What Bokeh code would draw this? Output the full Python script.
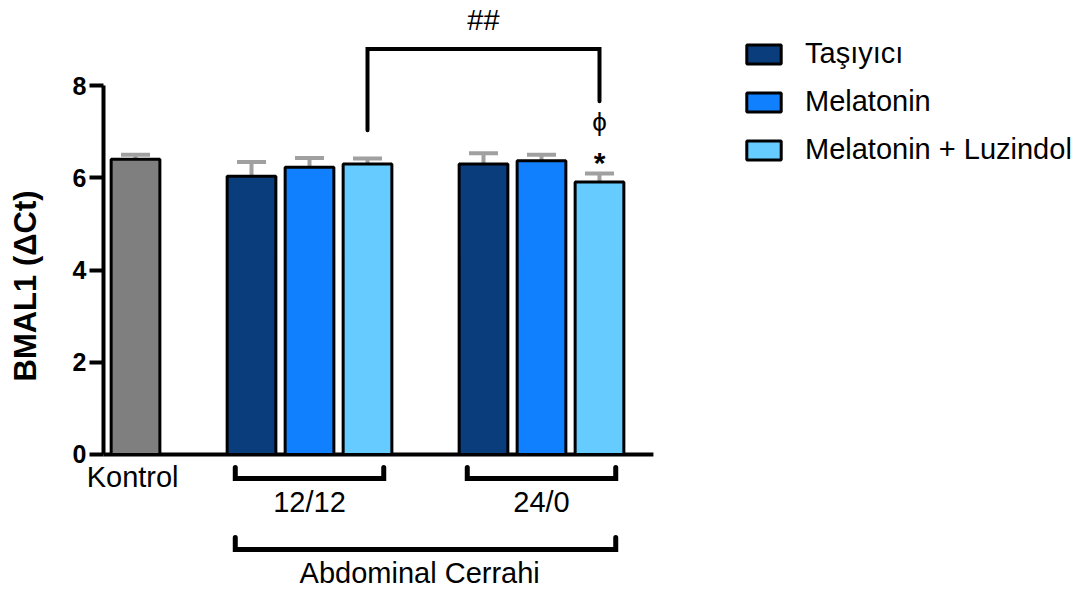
from bokeh.plotting import figure
from bokeh.models import Range1d, FixedTicker, Legend, LegendItem
from bokeh.core.properties import value
from bokeh.embed import file_html
from bokeh.resources import INLINE

# ---------------- data ----------------
series = ["Taşıyıcı", "Melatonin", "Melatonin + Luzindol"]
groups = ["12/12", "24/0"]
control_label = "Kontrol"
surgery_label = "Abdominal Cerrahi"

kontrol_mean = [6.40]
kontrol_sem = [0.10]
tasiyici_mean = [6.03, 6.30]
tasiyici_sem = [0.31, 0.23]
melatonin_mean = [6.23, 6.37]
melatonin_sem = [0.20, 0.13]
luzindol_mean = [6.30, 5.91]
luzindol_sem = [0.12, 0.18]

y_ticks = [0, 2, 4, 6, 8]
y_label = "BMAL1 (ΔCt)"

# significance marks
hash_text = "##"
phi_text = "ϕ"
star_text = "*"
bracket_top = 8.79
bracket_left_end = 7.03
bracket_right_end = 7.66

# ---------------- styling ----------------
colors = ["#0A3D7C", "#1080FF", "#66CCFF"]
kontrol_color = "#7F7F7F"
err_color = "#A0A0A0"
FONT = "Liberation Sans"

kontrol_x = [0]
group_centers = [3, 7]
offsets = [-1, 0, 1]
bar_w = 0.84
cap_half = 0.25
x_axis_start = -0.552
x_axis_end = 8.93

p = figure(width=1090, height=589,
           x_range=Range1d(-2.328, 16.466), y_range=Range1d(-2.927, 9.843),
           x_axis_location=None, output_backend="svg", toolbar_location=None,
           min_border_left=0, min_border_right=0, min_border_top=0, min_border_bottom=0)
p.outline_line_color = None
p.xgrid.visible = False
p.ygrid.visible = False
p.background_fill_color = "white"
p.border_fill_color = "white"

# y axis (placed at the left end of the baseline)
ax = p.yaxis[0]
ax.fixed_location = x_axis_start
ax.ticker = FixedTicker(ticks=y_ticks)
ax.bounds = (-0.7, y_ticks[-1])          # label centring; the visible line is drawn below
ax.axis_line_color = None
ax.major_tick_line_width = 4
ax.major_tick_line_color = "black"
ax.major_tick_out = 14
ax.major_tick_in = 0
ax.minor_tick_line_color = None
ax.major_label_standoff = 3
ax.major_label_text_font = FONT
ax.major_label_text_font_size = "25px"
ax.major_label_text_font_style = "bold"
ax.major_label_text_color = "black"
ax.axis_label = y_label
ax.axis_label_text_font = FONT
ax.axis_label_text_font_size = "31px"
ax.axis_label_text_font_style = "bold"
ax.axis_label_standoff = 27
ax.axis_label_text_color = "black"

# axis lines
p.segment(x0=[x_axis_start], y0=[y_ticks[0]], x1=[x_axis_start], y1=[y_ticks[-1]],
          line_color="black", line_width=4)
p.segment(x0=[x_axis_start], y0=[0], x1=[x_axis_end], y1=[0], line_color="black", line_width=4)


def errbars(xs, means, sems):
    tops = [m + s for m, s in zip(means, sems)]
    p.segment(x0=xs, y0=means, x1=xs, y1=tops, line_color=err_color, line_width=4)
    p.segment(x0=[x - cap_half for x in xs], y0=tops, x1=[x + cap_half for x in xs], y1=tops,
              line_color=err_color, line_width=4)


# control bar
errbars(kontrol_x, kontrol_mean, kontrol_sem)
p.vbar(x=kontrol_x, top=kontrol_mean, bottom=0, width=bar_w, fill_color=kontrol_color,
       line_color="black", line_width=3)

renderers = []
for i, (means, sems) in enumerate([(tasiyici_mean, tasiyici_sem),
                                    (melatonin_mean, melatonin_sem),
                                    (luzindol_mean, luzindol_sem)]):
    xs = [c + offsets[i] for c in group_centers]
    errbars(xs, means, sems)
    r = p.vbar(x=xs, top=means, bottom=0, width=bar_w, fill_color=colors[i],
               line_color="black", line_width=3)
    renderers.append(r)

legend = Legend(items=[LegendItem(label=s, renderers=[r]) for s, r in zip(series, renderers)],
                location=(742, 423), orientation="vertical",
                glyph_width=43, glyph_height=24, label_height=24, spacing=15,
                padding=0, margin=0, border_line_color=None, background_fill_alpha=0,
                label_standoff=20, label_text_font=FONT, label_text_font_size="29px",
                label_text_color="black")
p.add_layout(legend)

# significance bracket (between Mel+Luz 12/12 and Mel+Luz 24/0)
bx0 = group_centers[0] + offsets[2]
bx1 = group_centers[1] + offsets[2]
p.line(x=[bx0, bx0, bx1, bx1], y=[bracket_left_end, bracket_top, bracket_top, bracket_right_end],
       line_color="black", line_width=4, line_cap="round", line_join="miter")
p.text(x=[(bx0 + bx1) / 2], y=[9.43], text=[hash_text], text_font=value(FONT),
       text_font_size=value("29px"), text_align="center", text_baseline="middle", text_color="black")
p.text(x=[bx1], y=[7.20], text=[phi_text], text_font=value(FONT),
       text_font_size=value("26px"), text_align="center", text_baseline="middle", text_color="black")
p.text(x=[bx1], y=[6.33], text=[star_text], text_font=value(FONT), text_font_style="bold",
       text_font_size=value("30px"), text_align="center", text_baseline="middle", text_color="black")

# labels under the axis
p.text(x=[kontrol_x[0] - 0.05], y=[-0.48], text=[control_label], text_font=value(FONT),
       text_font_size=value("29px"), text_align="center", text_baseline="middle", text_color="black")

half = 1.28
br_y, br_end = -0.52, -0.28
xs_list, ys_list = [], []
for c in group_centers:
    xs_list.append([c - half, c - half, c + half, c + half])
    ys_list.append([br_end, br_y, br_y, br_end])
ab_y, ab_end = -2.06, -1.80
xs_list.append([group_centers[0] - half, group_centers[0] - half, group_centers[1] + half, group_centers[1] + half])
ys_list.append([ab_end, ab_y, ab_y, ab_end])
p.multi_line(xs=xs_list, ys=ys_list, line_color="black", line_width=5, line_cap="round", line_join="miter")

p.text(x=group_centers, y=[-1.03, -1.03], text=groups, text_font=value(FONT),
       text_font_size=value("29px"), text_align="center", text_baseline="middle", text_color="black")
p.text(x=[(group_centers[0] + group_centers[1]) / 2 - 0.1], y=[-2.56], text=[surgery_label],
       text_font=value(FONT), text_font_size=value("29px"), text_align="center",
       text_baseline="middle", text_color="black")

open("out.html", "w").write(file_html(p, INLINE))
